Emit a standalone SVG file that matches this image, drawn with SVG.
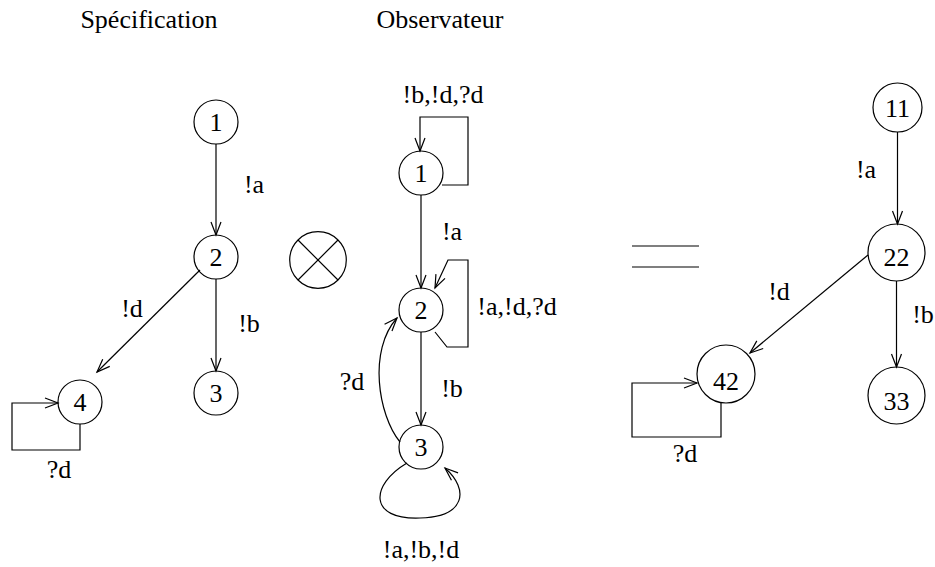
<svg xmlns="http://www.w3.org/2000/svg" width="935" height="567" viewBox="0 0 935 567">
<style>
text{font-size:26px;fill:#000;text-anchor:middle}
circle,.ln{fill:none;stroke:#000;stroke-width:1.2}
</style>
<defs>
<marker id="ah" markerUnits="userSpaceOnUse" markerWidth="16" markerHeight="12" refX="13" refY="5" orient="auto" overflow="visible">
<path d="M0,0 L13,5 L0,10" fill="none" stroke="#000" stroke-width="1.2"/>
</marker>
</defs>
<rect width="935" height="567" fill="#fff"/>
<g font-family="'Liberation Serif', 'DejaVu Serif', serif">
<g id="titles">
<text x="149" y="28">Spécification</text>
<text x="440" y="28">Observateur</text>
</g>
<g id="s1"><circle cx="216" cy="122" r="22"/><text x="216" y="131">1</text></g>
<g id="s2"><circle cx="216" cy="257" r="22"/><text x="216" y="266">2</text></g>
<g id="s3"><circle cx="216" cy="393" r="22"/><text x="216" y="402">3</text></g>
<g id="s4"><circle cx="80" cy="402" r="22"/><text x="80" y="411">4</text></g>
<g id="otimes"><circle cx="318" cy="260" r="28.3"/><path class="ln" d="M298,240 L338,280 M338,240 L298,280"/></g>
<g id="o1"><circle cx="421" cy="173" r="22"/><text x="421" y="182">1</text></g>
<g id="o2"><circle cx="421" cy="310" r="22"/><text x="421" y="319">2</text></g>
<g id="o3"><circle cx="421" cy="447" r="22"/><text x="421" y="456">3</text></g>
<g id="equals"><path class="ln" d="M632,246 H699 M632,267 H699"/></g>
<g id="r11"><circle cx="897.5" cy="107.5" r="24.5"/><text x="897.5" y="117">11</text></g>
<g id="r22"><circle cx="896.5" cy="252.5" r="28.5"/><text x="896.5" y="266">22</text></g>
<g id="r42"><circle cx="726" cy="374" r="29"/><text x="726" y="390">42</text></g>
<g id="r33"><circle cx="896.5" cy="395.5" r="28.5"/><text x="896.5" y="410">33</text></g>
<g id="connectors">
<path class="ln" d="M216,144 V235" marker-end="url(#ah)"/>
<path class="ln" d="M216,279 V371" marker-end="url(#ah)"/>
<path class="ln" d="M200,270 L97,372" marker-end="url(#ah)"/>
<path class="ln" d="M80,424 V450 H12 V403 H58" marker-end="url(#ah)"/>
<path class="ln" d="M421,195 V288" marker-end="url(#ah)"/>
<path class="ln" d="M442,185 H468 V117 H420 V151" marker-end="url(#ah)"/>
<path class="ln" d="M435,332 L447,347 H468 V260 H448 L435,288" marker-end="url(#ah)"/>
<path class="ln" d="M421,332 V425" marker-end="url(#ah)"/>
<path class="ln" d="M400,442 C378,415 368,350 397,318" marker-end="url(#ah)"/>
<path class="ln" d="M407,463 C370,485 368,520 420,518 C465,517 470,490 445,468" marker-end="url(#ah)"/>
<path class="ln" d="M897.5,132 V224" marker-end="url(#ah)"/>
<path class="ln" d="M896.5,281 V367" marker-end="url(#ah)"/>
<path class="ln" d="M868,255 L750,353" marker-end="url(#ah)"/>
<path class="ln" d="M721,403 V437 H632 V383 H697" marker-end="url(#ah)"/>
</g>
<g id="labels">
<text x="254" y="193">!a</text>
<text x="132" y="317">!d</text>
<text x="249" y="332">!b</text>
<text x="59" y="478">?d</text>
<text x="443" y="103">!b,!d,?d</text>
<text x="452" y="240">!a</text>
<text x="517" y="315">!a,!d,?d</text>
<text x="452" y="397">!b</text>
<text x="352" y="390">?d</text>
<text x="421" y="558">!a,!b,!d</text>
<text x="866" y="178">!a</text>
<text x="779" y="300">!d</text>
<text x="923" y="323">!b</text>
<text x="685" y="462">?d</text>
</g>
</g>
</svg>
